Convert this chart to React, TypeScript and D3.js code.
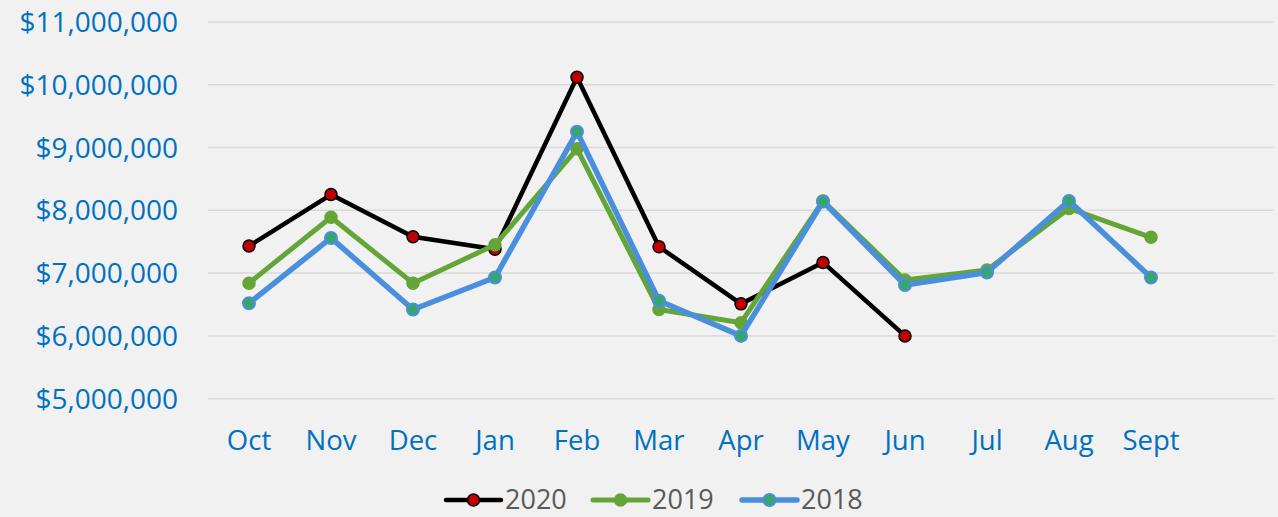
import React, { useRef, useEffect } from "react";
import * as d3 from "d3";

const months = ["Oct", "Nov", "Dec", "Jan", "Feb", "Mar", "Apr", "May", "Jun", "Jul", "Aug", "Sept"];
const yTicks = [5000000, 6000000, 7000000, 8000000, 9000000, 10000000, 11000000];

const sales2020 = [7430000, 8250000, 7580000, 7380000, 10120000, 7420000, 6510000, 7170000, 6000000];
const sales2019 = [6840000, 7890000, 6840000, 7450000, 8980000, 6420000, 6210000, 8150000, 6890000, 7050000, 8030000, 7570000];
const sales2018 = [6520000, 7560000, 6420000, 6930000, 9250000, 6560000, 6000000, 8140000, 6810000, 7010000, 8150000, 6930000];

const seriesNames = ["2020", "2019", "2018"];

const W = 1278, H = 517;
const FONT = "'Open Sans', 'Noto Sans', sans-serif";

export default function App() {
    const svgRef = useRef<SVGSVGElement | null>(null);

    useEffect(() => {
        document.body.style.margin = "0";
        const svg = d3.select(svgRef.current);
        svg.selectAll("*").remove();

        svg.append("rect").attr("width", W).attr("height", H).attr("fill", "#f1f1f1");

        const x = d3.scaleBand<string>().domain(months).range([208, 1192]);
        const y = d3.scaleLinear().domain([5000000, 11000000]).range([398.7, 21.9]);
        const fmt = d3.format("$,");

        // gridlines + y labels
        const grid = svg.append("g");
        grid.selectAll("line").data(yTicks).join("line")
            .attr("x1", 208).attr("x2", 1274)
            .attr("y1", d => y(d)).attr("y2", d => y(d))
            .attr("stroke", "#d9d9d9").attr("stroke-width", 1.5);
        grid.selectAll("text").data(yTicks).join("text")
            .attr("x", 178).attr("y", d => y(d)).attr("dy", "0.36em")
            .attr("text-anchor", "end")
            .attr("font-family", FONT).attr("font-size", 28)
            .attr("fill", "#0070c0")
            .text(d => fmt(d));

        // x labels
        svg.append("g").selectAll("text").data(months).join("text")
            .attr("x", d => x(d)! + x.bandwidth() / 2).attr("y", 450)
            .attr("text-anchor", "middle")
            .attr("font-family", FONT).attr("font-size", 27.5)
            .attr("fill", "#0070c0")
            .text(d => d);

        const styles = [
            { data: sales2020, line: "#000000", fill: "#c00000", stroke: "#000000", width: 4.5, sw: 1.5 },
            { data: sales2019, line: "#63a537", fill: "#63a537", stroke: "#63a537", width: 5, sw: 1.5 },
            { data: sales2018, line: "#4a8fdb", fill: "#36a56f", stroke: "#4a8fdb", width: 5.5, sw: 2 },
        ];

        const line = d3.line<number>()
            .x((d, i) => x(months[i])! + x.bandwidth() / 2)
            .y(d => y(d));

        styles.forEach(s => {
            const g = svg.append("g");
            g.append("path").datum(s.data)
                .attr("fill", "none").attr("stroke", s.line)
                .attr("stroke-width", s.width).attr("stroke-linejoin", "round")
                .attr("d", line);
            g.selectAll("circle").data(s.data).join("circle")
                .attr("cx", (d, i) => x(months[i])! + x.bandwidth() / 2)
                .attr("cy", d => y(d))
                .attr("r", 6)
                .attr("fill", s.fill).attr("stroke", s.stroke).attr("stroke-width", s.sw);
        });

        // legend
        const legendX = [446, 593, 742];
        const ly = 500;
        const lg = svg.append("g");
        styles.forEach((s, i) => {
            const lx = legendX[i];
            lg.append("line").attr("x1", lx).attr("x2", lx + 55).attr("y1", ly).attr("y2", ly)
                .attr("stroke", s.line).attr("stroke-width", s.width).attr("stroke-linecap", "round");
            lg.append("circle").attr("cx", lx + 27.5).attr("cy", ly).attr("r", 6)
                .attr("fill", s.fill).attr("stroke", s.stroke).attr("stroke-width", s.sw);
            lg.append("text").attr("x", lx + 59).attr("y", ly).attr("dy", "0.35em")
                .attr("font-family", FONT).attr("font-size", 27).attr("fill", "#595959")
                .text(seriesNames[i]);
        });
    }, []);

    return (
        <div>
            <svg ref={svgRef} width={W} height={H} style={{ display: "block" }} />
        </div>
    );
}
